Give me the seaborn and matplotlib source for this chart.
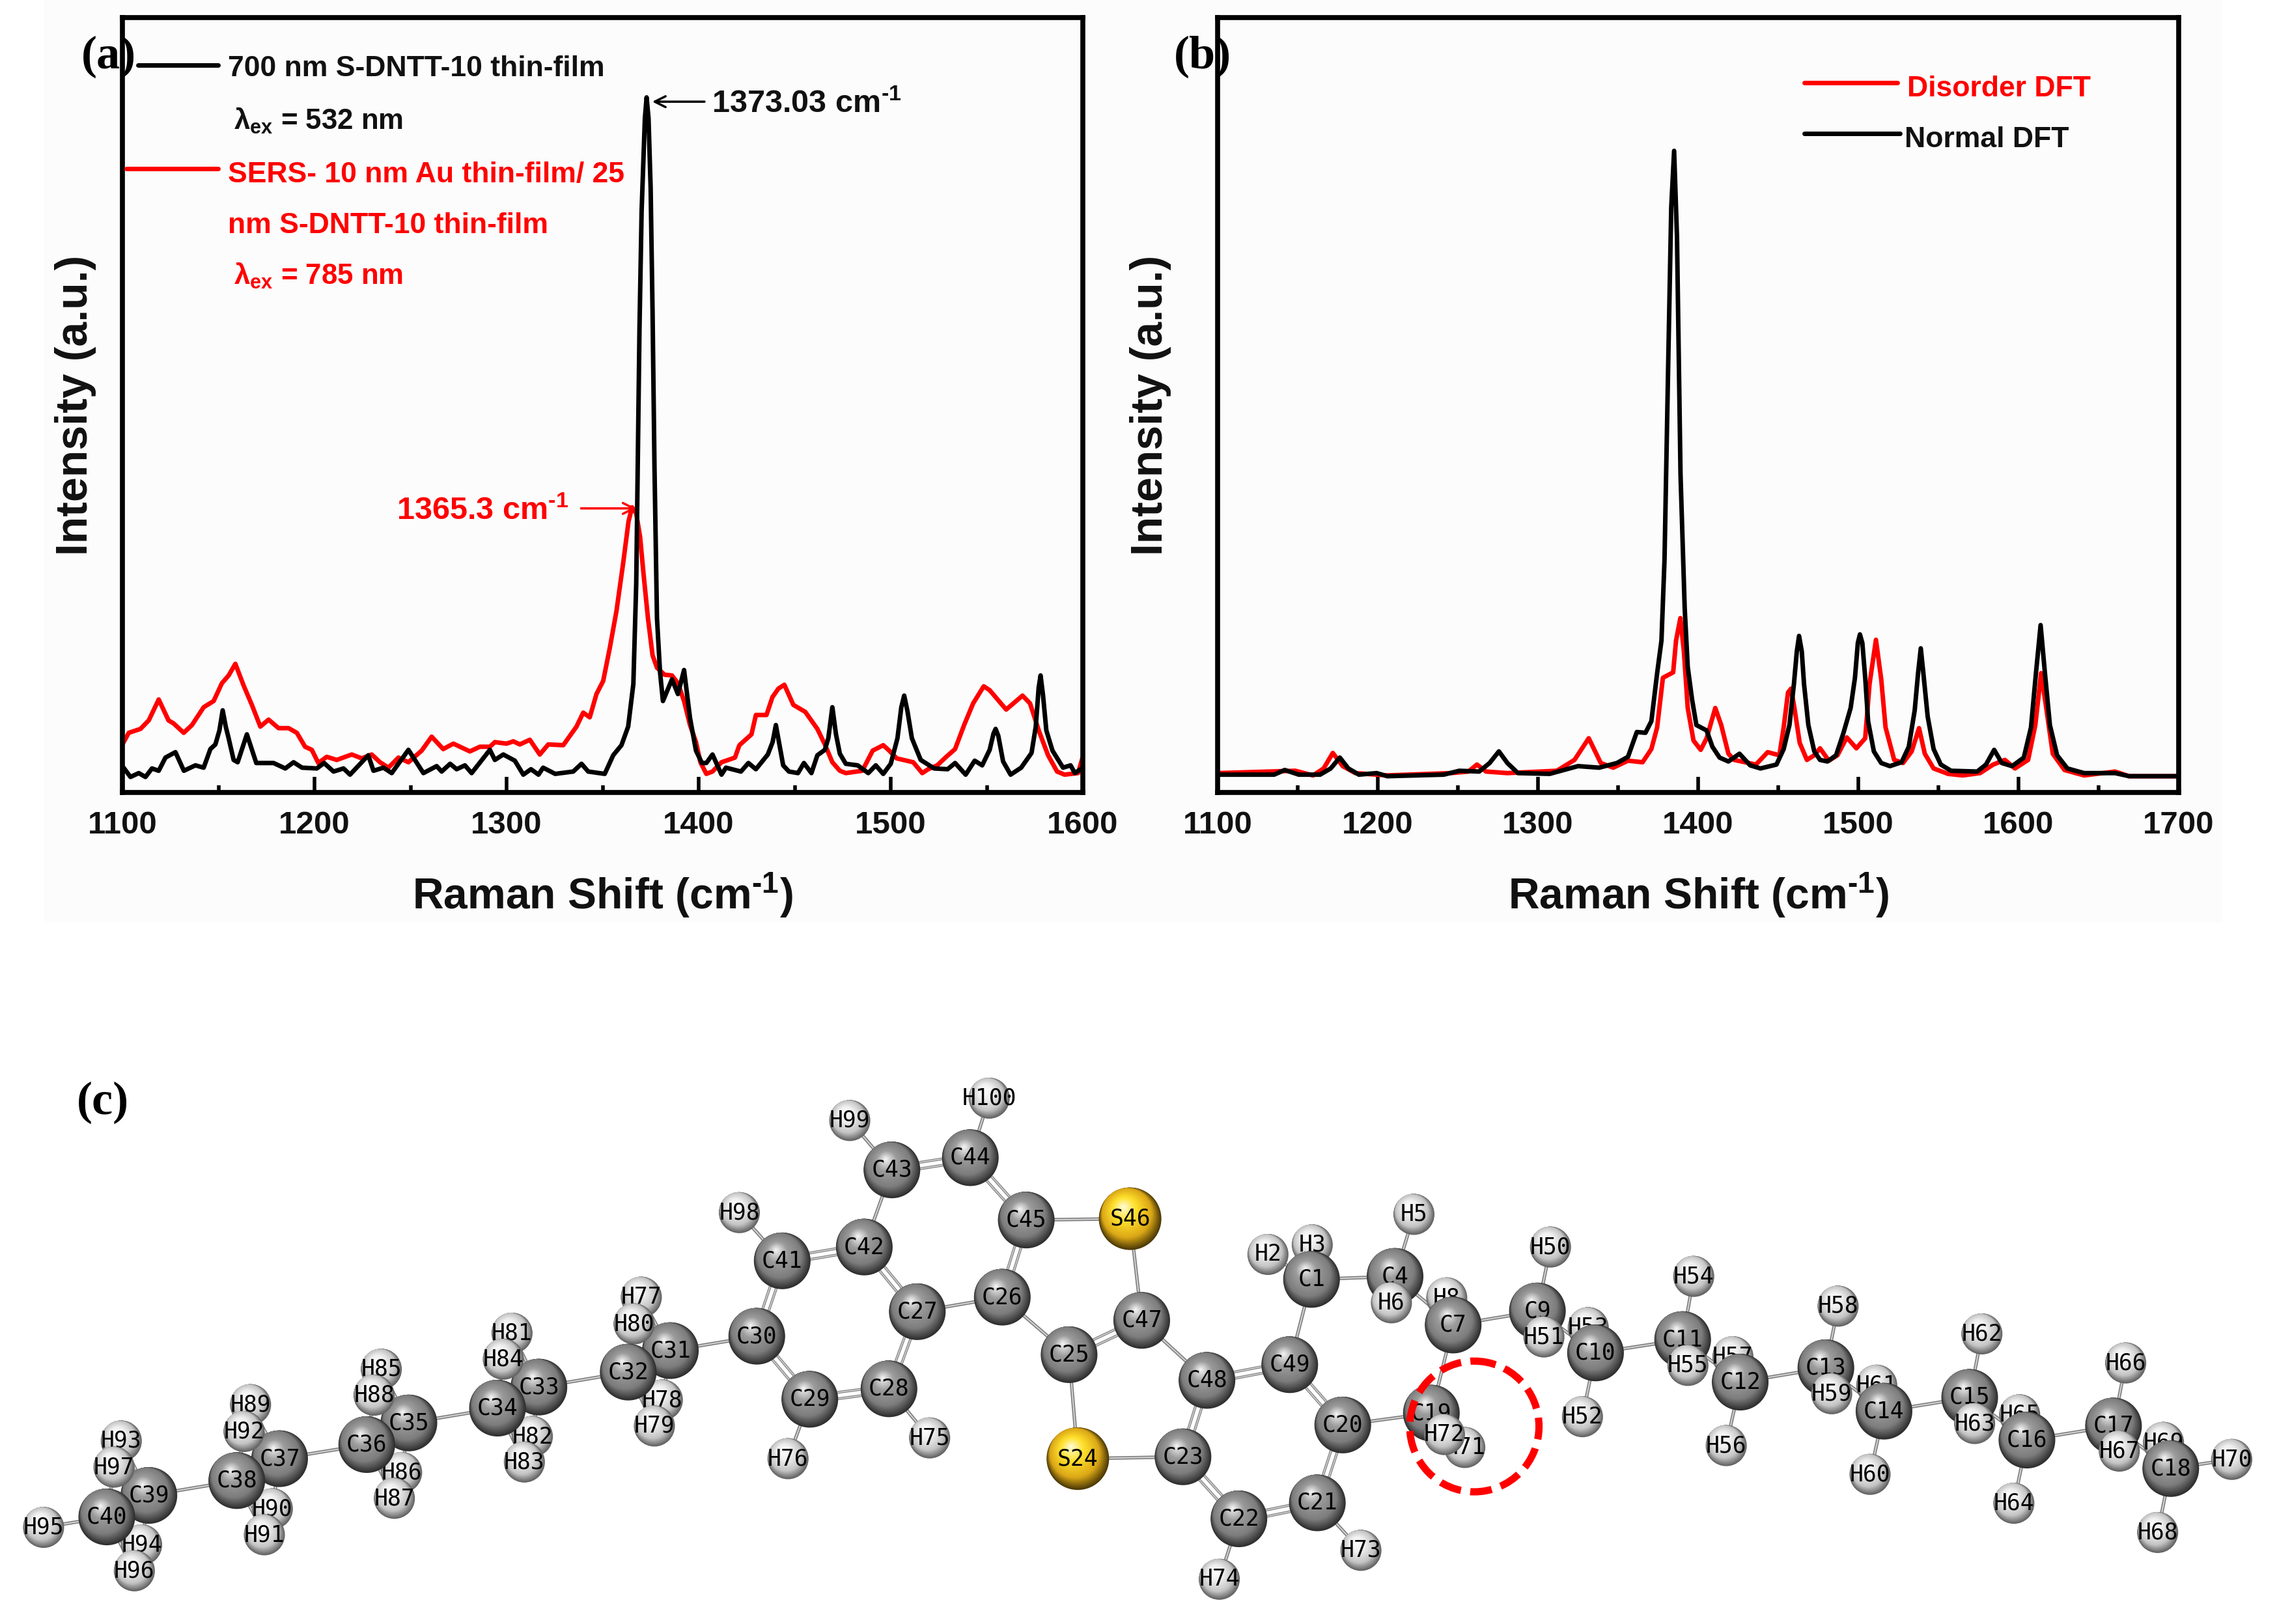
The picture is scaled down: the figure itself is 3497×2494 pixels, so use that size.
import numpy as np
import pandas as pd
import matplotlib
matplotlib.use("Agg")
import matplotlib.pyplot as plt
from matplotlib.patches import Ellipse, Rectangle
from matplotlib.colors import to_rgb
import seaborn as sns

sns.set_theme(style="white")
plt.rcParams["font.family"] = ["Liberation Sans", "DejaVu Sans"]
plt.rcParams["font.weight"] = "bold"
plt.rcParams["mathtext.fontset"] = "custom"
plt.rcParams["mathtext.rm"] = "Liberation Sans:bold"
plt.rcParams["mathtext.bf"] = "Liberation Sans:bold"
plt.rcParams["mathtext.it"] = "Liberation Sans:bold"
plt.rcParams["mathtext.default"] = "regular"

# ---------- panel (a) ----------
A_RED_X = [1100,1103.3,1109.4,1113.7,1118.9,1124,1126.7,1131.9,1136.2,1142.3,1147.5,1151.8,1155.3,1158.8,1163.1,1167.4,1171.8,1176.1,1181.3,1186.5,1190.8,1195.1,1198.6,1202,1206.4,1211.6,1219.4,1224.6,1229.8,1234.1,1238.5,1243.7,1248.9,1255.8,1261,1267,1272.3,1280.9,1286.1,1291.3,1293.9,1300,1303.5,1306.9,1312.1,1317.3,1321.7,1329.5,1336.4,1339.9,1343.3,1346.8,1350.3,1353.7,1357.2,1360.7,1363.5,1365.3,1367.5,1369.5,1371.3,1373.6,1376,1378.3,1382.2,1386.1,1389.2,1392.4,1395.5,1398.6,1400.9,1404,1407.2,1411.9,1418.9,1421.2,1427.5,1429.8,1435.3,1438.4,1441.5,1444.6,1449.3,1455.5,1461.8,1465.7,1469.6,1473.5,1476.6,1485.2,1490.6,1496.1,1499.2,1503.1,1511.7,1516.4,1519.5,1524.2,1528.9,1533.5,1538.2,1542.9,1548.4,1551.5,1560.1,1568.6,1572.5,1577.2,1581.9,1586.6,1590.5,1597.5,1600]
A_RED_Y = [6.2,7.7,8.2,9.3,12.0,9.3,8.9,7.7,8.7,11.0,11.8,14.1,15.1,16.6,13.8,11.3,8.5,9.4,8.3,8.3,7.7,5.9,5.5,3.8,4.6,4.2,4.9,4.4,4.9,3.9,3.2,4.5,3.9,5.4,7.2,5.6,6.3,5.3,5.9,5.9,6.5,6.3,6.6,6.2,6.8,4.9,6.2,6.1,8.5,10.3,9.7,12.7,14.4,18.6,23.4,29.6,35.0,36.8,36,33,28.2,22.5,17.7,16.1,15.2,15.1,14.1,11.8,8.7,6.5,3.9,2.4,2.7,3.9,4.5,6.1,7.5,10,10,12.3,13.4,13.9,11.3,10.4,8.2,6.2,3.9,2.8,2.5,2.8,5.4,6.1,5.4,4.4,3.9,2.5,3,3.5,4.6,5.6,8.7,11.5,13.7,13.2,10.7,12.5,11.5,7.9,4.8,2.7,2.3,2.5,4.6]
A_BLACK_X = [1100,1104.2,1108.5,1112,1115.4,1118.9,1122.4,1127.6,1132,1138,1142.3,1145.8,1148.4,1150.5,1152.2,1153.8,1155.3,1157.9,1160,1164.8,1169.7,1178.7,1184.8,1189.1,1193.5,1201.2,1205,1209.9,1215.1,1218.5,1228,1230.7,1235.9,1240.2,1248.9,1256.7,1263.6,1266.2,1270.6,1274,1278.3,1281.8,1291.3,1293.9,1298.3,1304.3,1308.7,1312.7,1316.6,1319,1325.3,1334.7,1339,1342.5,1351.1,1355.5,1359.8,1363.3,1366,1367.5,1369.2,1370.3,1372,1372.9,1373.9,1375,1376,1377,1378.3,1379.9,1381.4,1386.1,1389.2,1392.4,1395.5,1398.6,1401.7,1404,1407.2,1411.9,1414.2,1422,1425.9,1429.8,
             1436,1438.5,1440.2,1441.8,1444,1447,1451.7,1454.8,1458.7,1461.8,1465.7,1467.5,1469.6,1471.5,1473.5,1476.6,1482.8,1488.3,1492.2,1496.1,1500,1503.5,1505.5,1507,1508.7,1511,1515.6,1522.6,1529.6,1533.5,1539,1543.7,1547.6,1551.5,1553.5,1554.6,1556,1558.5,1562.4,1567.9,1573.3,1575.5,1577,1578,1579.3,1581,1584.2,1589.7,1593.6,1595.9,1600]
A_BLACK_Y = [3.4,2,2.5,2,3.1,2.8,4.5,5.2,2.8,3.5,3.2,5.6,6.2,8,10.6,8.5,7,4.2,3.9,7.5,3.8,3.8,3.1,3.9,3.2,3.1,3.8,2.7,3.1,2.3,4.8,2.8,3.2,2.5,5.5,2.5,3.4,2.7,3.7,3,3.5,2.5,5.5,4.2,4.9,4.1,2.3,3,2.3,3.2,2.4,2.7,3.7,2.7,2.4,4.8,6.1,8.5,14,27,60,75,87,89.7,87,78,62,42,22.5,15.5,11.8,14.6,12.7,15.8,9.6,5.4,3.8,3.8,4.9,2.3,3.2,2.7,3.8,3,
             4.9,6.5,8.7,6.5,3.5,2.7,2.5,3.8,2.5,4.8,5.5,7,11,7.5,5,3.7,3.5,2.5,3.5,2.4,3.7,7,11,12.5,10.5,7,4.2,3.1,3,3.8,2.3,4.1,3.5,5.5,7.6,8.2,7.3,4,2.3,3.2,5.1,8.5,13.5,15.1,12.5,8,5.4,3.2,3.5,2.5,3.2]

# ---------- panel (b) ----------
B_BLACK_X = [1100,1135.3,1141.9,1150.7,1164,1170.6,1176.3,1181.6,1188.2,1199.3,1205.9,1241.2,1250.9,1263.3,1269.8,1275.6,1280.9,1287.5,1307.3,1325,1338.2,1349.3,
             1356.2,1361.7,1367.1,1370.8,1374.4,1377.1,1379,1381.4,1383.2,1385,1386.8,1389,1391.6,1393.5,1396.2,1398.9,1405.3,1408.9,1413.4,1418.9,1425.8,1432.5,1438.9,1448.9,1453.4,1457,1459.8,1461.6,1463,1464.7,1466.1,1468.8,1472.5,1476.1,1480.7,1486.1,1490.6,1495.2,1497.9,1499.7,1501,1502.5,1504.3,1506.1,1509.7,1514.3,1519.7,1527,1531.5,1535.2,1537.3,1539,1540.6,1543.3,1547,1551.5,1557.9,1574.2,1579.7,1584.8,1589.6,1596,1603.3,1607.8,1610.9,1613.8,1616.5,1619.6,1624.1,1630.5,1641,1660.3,1669.1,1700]
B_BLACK_Y = [2.3,2.3,2.9,2.3,2.3,3.1,4.5,3.1,2.3,2.5,2.1,2.3,2.8,2.7,3.8,5.3,3.8,2.5,2.4,3.4,3.2,3.8,
             4.6,7.8,7.7,9.2,15.4,19.6,30,56.3,75.5,82.8,71.6,41,23.8,16.2,12,8.7,8,5.9,4.5,4,5,3.5,3.1,3.6,5.6,8.7,14,18.2,20.2,18.2,14,8.7,5.3,4.2,4,4.8,7.6,10.9,14.8,19.3,20.4,19.3,14.8,9.2,5.3,3.8,3.4,3.9,5.9,10.6,15.4,18.6,15.4,9.8,5.6,3.6,2.8,2.7,3.6,5.5,3.8,3.4,4.5,8.4,15.4,21.6,15.4,8.7,4.8,3.1,2.5,2.5,2.1,2.1]
B_RED_X = [1100,1148.5,1159.6,1166.2,1171.9,1178.1,1186,1205.9,1245.6,1256.6,1261.9,1267.6,1280.9,1311.8,1322.8,1331.7,1339.2,1347,
           1356.2,1365.3,1370.8,1374.4,1378,1384.4,1386.2,1388.9,1391.1,1393.5,1397.1,1401.6,1405.3,1410.7,1414.4,1418.9,1422.5,1436.1,1443.4,1450.7,1453.4,1456.1,1458,1460.1,1463.4,1467.9,1472.5,1476.1,1481.6,1487,1492.8,1498.8,1504.3,1507,1511,1514.3,1517,1522.4,1527.9,1533.3,1537.9,1541.5,1547,1556,1565.1,1576,1584.2,1591.5,1597.8,1606,1610.5,1614.1,1616.9,1621.4,1628.7,1641,1660.3,1669,1700]
B_RED_Y = [2.5,2.8,2.2,3.1,5.1,3.4,2.5,2.2,2.5,2.7,3.6,2.7,2.5,2.8,4.2,7,3.8,3.2,
           4.1,3.9,5.6,8.4,14.8,15.5,19.6,22.5,18.2,10.9,6.7,5.5,7,10.9,8.7,5,4.2,3.6,5.2,4.8,8.4,12.9,13.4,10.9,6.4,4.2,4.8,5.7,4.1,4.8,7.1,5.7,7,14,19.7,14.6,8.4,4.2,3.8,5.3,8.3,5,3.1,2.4,2.2,2.5,3.6,4.2,3.1,4.2,8.7,15.4,11.5,5,2.9,2.2,2.7,2.1,2.1]

A_TICKS = [1100, 1200, 1300, 1400, 1500, 1600]
B_TICKS = [1100, 1200, 1300, 1400, 1500, 1600, 1700]

# ---------- panel (c): atoms, back to front ----------
ATOM_NAMES = ["H95","H93","C39","H94","H96","H97","C40",
    "H89","C37","H90","H91","H92","C38",
    "H85","C35","H86","H87","H88","C36",
    "H81","C33","H82","H83","H84","C34",
    "H77","C31","H78","H79","H80","C32",
    "C30","C29","C28","C27","C26","C25","S24","C41","C42","C43","C44","C45",
    "H98","H99","H100","H75","H76","S46","C47","C48","C49","C20","C21","C22","C23","H73","H74",
    "H3","H2","C1","H5","C4","H6","H8","C7","C19","H71","H72",
    "H50","C9","H51","H53","C10","H52",
    "H54","C11","H55","H57","C12","H56",
    "H58","C13","H59","H61","C14","H60",
    "H62","C15","H63","H65","C16","H64",
    "H66","C17","H67","H69","C18","H68","H70"]
ATOM_X = [30,83.5,102.5,97.5,92.5,78.5,73.5,
    172.5,192.5,187.5,182,168,163,
    262.5,281.5,276.5,271.5,257.5,252.5,
    352.5,371,366.5,361,346.5,342.5,
    441.5,461.5,456,450.5,436.5,432.5,
    521,557.5,612,631.5,690,736,742,538.5,595,614,668,706.5,
    509,585,681,640,542.5,778,786,830.9,887.9,924.4,906.9,852.9,814.4,936.9,839.4,
    903.4,872.9,902.9,973.4,960.4,957.9,996,1000.4,985.4,1008.4,994.4,
    1067.4,1058.4,1062.9,1093.4,1098.4,1089.4,
    1166,1158.4,1162,1193,1198,1188.4,
    1265.4,1257,1261,1292,1297,1287.4,
    1364.4,1356,1359.4,1390.4,1395.4,1386.4,
    1463.4,1455,1459,1489.4,1494.4,1485.4,1536.4]
ATOM_Y = [1051.5,992,1029.5,1063.5,1081.4,1010,1044.3,
    967,1004.2,1038.7,1056.6,985.5,1019.3,
    942.6,979.6,1013.7,1031.5,960.5,994.5,
    917.8,954.9,988.9,1006.5,935.7,969.4,
    893,929.8,963.8,981.7,911.4,944.6,
    919.9,963.3,956.1,903,893,932.6,1004.2,868,858.5,805.4,797,839.9,
    834.8,771.4,756,989.9,1004.2,839,909,950.3,939.5,981,1034.6,1045.6,1002.9,1067.3,1087.2,
    857,863.6,880.8,836,878.7,896.9,893.5,912.2,972.8,996.5,987.6,
    858.5,902.5,920.4,914,931.4,975.3,
    878.7,922.2,940,934,951.5,995.2,
    899.2,941.6,959.5,953.6,971.5,1015,
    918.3,962,980,974,991.4,1034.9,
    938.3,981.7,999,993,1011,1055,1004.7]
SINGLE_BONDS = [("C40","C39"),("C39","C38"),("C38","C37"),("C37","C36"),("C36","C35"),("C35","C34"),("C34","C33"),("C33","C32"),("C32","C31"),("C31","C30"),
    ("C40","H95"),("C40","H96"),("C40","H97"),("C39","H93"),("C39","H94"),("C38","H92"),("C38","H91"),("C37","H89"),("C37","H90"),
    ("C36","H88"),("C36","H87"),("C35","H85"),("C35","H86"),("C34","H84"),("C34","H83"),("C33","H81"),("C33","H82"),("C32","H80"),("C32","H79"),("C31","H77"),("C31","H78"),
    ("C42","C43"),("C26","C27"),("C26","C25"),("C25","S24"),("S24","C23"),("C48","C47"),("C47","S46"),("S46","C45"),
    ("C49","C1"),("C20","C19"),("C1","C4"),("C4","C7"),("C7","C19"),("C7","C9"),("C9","C10"),("C10","C11"),("C11","C12"),("C12","C13"),("C13","C14"),("C14","C15"),("C15","C16"),("C16","C17"),("C17","C18"),
    ("C1","H2"),("C1","H3"),("C4","H5"),("C4","H6"),("C7","H8"),("C19","H72"),("C19","H71"),("C9","H50"),("C9","H51"),("C10","H53"),("C10","H52"),("C11","H54"),("C11","H55"),("C12","H57"),("C12","H56"),
    ("C13","H58"),("C13","H59"),("C14","H61"),("C14","H60"),("C15","H62"),("C15","H63"),("C16","H65"),("C16","H64"),("C17","H66"),("C17","H67"),("C18","H69"),("C18","H68"),("C18","H70"),
    ("C29","H76"),("C28","H75"),("C41","H98"),("C43","H99"),("C44","H100"),("C21","H73"),("C22","H74")]
DOUBLE_BONDS = [("C30","C29"),("C29","C28"),("C28","C27"),("C27","C42"),("C42","C41"),("C41","C30"),("C43","C44"),("C44","C45"),("C45","C26"),
    ("C25","C47"),("C23","C48"),("C48","C49"),("C49","C20"),("C20","C21"),("C21","C22"),("C22","C23")]

W, H = 3498, 2494
S = W / 1568
fig = plt.figure(figsize=(W / 100, H / 100), dpi=100, facecolor="white")
fig.patches.append(Rectangle((30 * S / W, 1 - 635 * S / H), 1500 * S / W, 635 * S / H,
                             transform=fig.transFigure, facecolor="#fcfcfc", edgecolor="none", zorder=-5))

def panel(left, right, xlim, ticks, red_x, red_y, black_x, black_y, lw):
    ax = fig.add_axes([left / W, 1 - 1217 / H, (right - left) / W, (1217 - 27) / H])
    ax.patch.set_alpha(0)
    sns.lineplot(x=red_x, y=red_y, color="#ff0000", lw=lw, estimator=None, solid_joinstyle="round", ax=ax)
    sns.lineplot(x=black_x, y=black_y, color="black", lw=lw, estimator=None, solid_joinstyle="round", ax=ax)
    ax.set_xlim(*xlim)
    ax.set_ylim(0, 100)
    ax.set_yticks([])
    ax.set_xticks(ticks)
    ax.set_xticks([t + 50 for t in ticks[:-1]], minor=True)
    ax.tick_params(axis="x", which="major", direction="in", length=17, width=4, bottom=True,
                   labelsize=35.5, pad=20, color="black", labelcolor="#111111")
    ax.tick_params(axis="x", which="minor", direction="in", length=8, width=4, bottom=True, color="black")
    for sp in ax.spines.values():
        sp.set_linewidth(5.5)
        sp.set_color("black")
    ax.set_xlabel(r"Raman Shift (cm$^{\text{-1}}$)", fontsize=47.5, fontweight="bold", labelpad=34, color="#111111")
    return ax

ax_a = panel(188, 1663, (1100, 1600), A_TICKS, A_RED_X, A_RED_Y, A_BLACK_X, A_BLACK_Y, 5)
ax_b = panel(1870, 3346, (1100, 1700), B_TICKS, B_RED_X, B_RED_Y, B_BLACK_X, B_BLACK_Y, 5)

# overlay in reference-shrunk coordinates
ov = fig.add_axes([0, 0, 1, 1], zorder=5)
ov.patch.set_alpha(0)
ov.set_axis_off()

pos = {n: (x, y) for n, x, y in zip(ATOM_NAMES, ATOM_X, ATOM_Y)}
for a, b in SINGLE_BONDS:
    xs, ys = zip(pos[a], pos[b])
    ov.plot(xs, ys, color="#7a7a7a", lw=3.8, zorder=1, solid_capstyle="butt")
    ov.plot(xs, ys, color="#cfcfcf", lw=1.6, zorder=1.1, solid_capstyle="butt")
for a, b in DOUBLE_BONDS:
    p, q = np.array(pos[a]), np.array(pos[b])
    n = np.array([q[1] - p[1], p[0] - q[0]]) / np.hypot(*(q - p))
    for off in (-2.2, 2.2):
        xs, ys = zip(p + n * off, q + n * off)
        ov.plot(xs, ys, color="#858585", lw=3.0, zorder=1, solid_capstyle="butt")
        ov.plot(xs, ys, color="#d0d0d0", lw=1.2, zorder=1.1, solid_capstyle="butt")

DIAM = {"C": 87, "H": 63, "S": 96}
COLOR_STOPS = {"C": ["#2e2e2e", "#7c7c7c", "#9a9a9a", "#f0f0f0"],
               "H": ["#626262", "#c4c4c4", "#efefef", "#ffffff"],
               "S": ["#4d3a05", "#dca816", "#ffe02c", "#fffbd0"]}
STOPS = [0, 0.35, 0.75, 1]
R_FRAC = [1, 0.80, 0.40, 0.05]
OFF_X = [0, -0.10, -0.18, -0.22]
OFF_Y = [0, -0.18, -0.30, -0.38]
N_LAYERS = 26
t = np.linspace(0, 1, N_LAYERS)
for i, name in enumerate(ATOM_NAMES):
    x0, y0 = pos[name]
    el = name[0]
    d = DIAM[el]
    r = d / 2 / S
    xs = x0 + r * np.interp(t, STOPS, OFF_X)
    ys = y0 + r * np.interp(t, STOPS, OFF_Y)
    sizes = (d * 0.72 * np.interp(t, STOPS, R_FRAC)) ** 2
    rgb = np.array([to_rgb(c) for c in COLOR_STOPS[el]])
    cols = [tuple(np.interp(v, STOPS, rgb[:, k]) for k in range(3)) for v in t]
    sns.scatterplot(x=xs, y=ys, s=sizes, c=cols, linewidth=0, legend=False, ax=ov, zorder=2 + i)
    ov.text(x0, y0, name, family="DejaVu Sans Mono", fontweight="normal", fontsize=25,
            ha="center", va="center", color="black", zorder=2.5 + i)

ov.set(xlim=(0, 1568), ylim=(1118, 0), xlabel="", ylabel="")

ov.add_patch(Ellipse((1015, 982), 89, 90, fill=False, edgecolor="#ff0000", lw=8,
                     linestyle=(0, (3.0, 1.3)), zorder=400))

RED = "#ff0000"
def txt(x, y, s, color="#111111", size=32, **kw):
    ov.text(x, y, s, color=color, fontsize=size, fontweight="bold", va="center", zorder=500, **kw)

# panel letters
for x, y, s in [(56, 39, "(a)"), (808, 39, "(b)"), (53, 759, "(c)")]:
    ov.text(x, y, s, family="Liberation Serif", fontweight="bold", fontsize=52,
            color="black", va="center", zorder=500)

# y labels
for x, s in [(52, "Intensity (a.u.)"), (792, "Intensity (a.u.)")]:
    ov.text(x, 279, s, rotation=90, fontsize=49, fontweight="bold", color="#111111",
            ha="center", va="center", zorder=500)

# panel (a) legend
ov.plot([95, 150], [45, 45], color="black", lw=5, zorder=500)
txt(157, 47.5, "700 nm S-DNTT-10 thin-film")
txt(161, 83, r"λ$_{ex}$ = 532 nm", size=31.5)
ov.plot([87, 150], [116, 116], color=RED, lw=5, zorder=500)
txt(157, 120.5, "SERS- 10 nm Au thin-film/ 25", RED)
txt(157, 155.5, "nm S-DNTT-10 thin-film", RED)
txt(161, 190, r"λ$_{ex}$ = 785 nm", RED, size=31.5)

# annotations
txt(490, 72, r"1373.03 cm$^{\text{-1}}$", size=35)
ov.annotate("", xy=(449, 70), xytext=(485, 70),
            arrowprops=dict(arrowstyle="->", lw=2.5, color="black", mutation_scale=30, shrinkA=0, shrinkB=0), zorder=500)
txt(273, 352, r"1365.3 cm$^{\text{-1}}$", RED, size=35)
ov.annotate("", xy=(438, 350), xytext=(400, 350),
            arrowprops=dict(arrowstyle="->", lw=2.5, color=RED, mutation_scale=30, shrinkA=0, shrinkB=0), zorder=500)

# panel (b) legend
ov.plot([1242, 1306], [57, 57], color=RED, lw=5, zorder=500)
txt(1313, 61, "Disorder DFT", RED, size=32)
ov.plot([1242, 1308], [92, 92], color="black", lw=5, zorder=500)
txt(1311, 96, "Normal DFT", size=32)

fig.savefig("out.png", dpi=100, facecolor="white")
